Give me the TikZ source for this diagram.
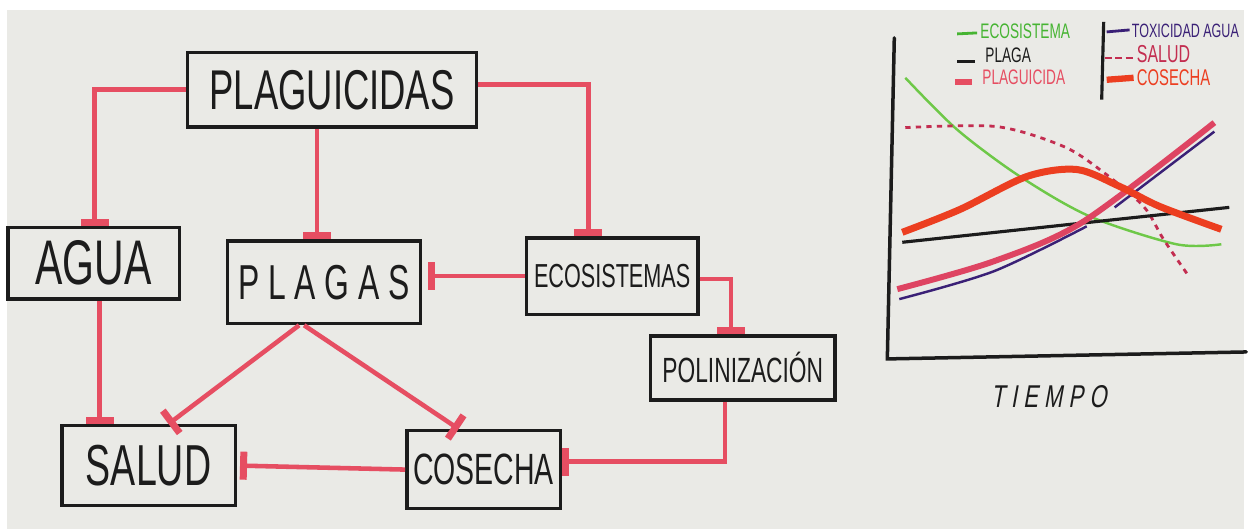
\documentclass[tikz,border=0pt]{standalone}
\usepackage{fontspec}
\newfontfamily\hand[FakeStretch=0.65]{Liberation Sans}
\newfontfamily\handsl[FakeStretch=0.7,FakeSlant=0.18]{Liberation Sans}
\usetikzlibrary{arrows.meta, positioning}

\definecolor{board}{RGB}{234,234,230}
\definecolor{marker}{RGB}{230,78,98}
\definecolor{ink}{RGB}{28,28,28}
\definecolor{ecogreen}{RGB}{110,200,72}
\definecolor{legreen}{RGB}{70,180,50}
\definecolor{saluddash}{RGB}{195,45,80}
\definecolor{cosorange}{RGB}{236,62,32}
\definecolor{plagpink}{RGB}{222,68,98}
\definecolor{toxpurple}{RGB}{58,32,118}

\begin{document}
\begin{tikzpicture}[x=0.02cm, y=-0.02cm,
    box/.style={draw=ink, line width=2pt, text=ink, inner sep=0pt},
    inh/.style={draw=marker, line width=2.6pt, -{Rectangle[length=4pt, width=16pt]}},
    leg/.style={anchor=west, inner sep=0pt, text height=0.72em, text depth=0pt,
                font=\hand\fontsize{12}{12}\selectfont}]

    % Whiteboard
    \fill[white] (0,0) rectangle (1248,531);
    \fill[board] (7,10) rectangle (1248,531);

    % Concept map
    \node[box, minimum width=5.8cm, minimum height=1.5cm, font=\hand\fontsize{32}{32}\selectfont] (plag) at (333,90) {PLAGUICIDAS};
    \node[box, minimum width=3.44cm, minimum height=1.44cm, font=\hand\fontsize{36}{36}\selectfont] (agua) at (94,264) {AGUA};
    \node[box, minimum width=3.88cm, minimum height=1.66cm, font=\hand\fontsize{28}{28}\selectfont] (plagas) at (325,283) {P L A G A S};
    \node[box, minimum width=3.44cm, minimum height=1.54cm, font=\hand\fontsize{19}{19}\selectfont] (eco) at (614,277) {ECOSISTEMAS};
    \node[box, minimum width=3.7cm, minimum height=1.28cm, font=\hand\fontsize{20}{20}\selectfont] (poli) at (745,369) {POLINIZACIÓN};
    \node[box, minimum width=3.48cm, minimum height=1.6cm, font=\hand\fontsize{33}{33}\selectfont] (salud) at (149,467) {SALUD};
    \node[box, minimum width=3.08cm, minimum height=1.56cm, font=\hand\fontsize{25}{25}\selectfont] (cosecha) at (485,471) {COSECHA};

    % Inhibitions
    \draw[inh] (plag.west) -| ([xshift=0.02cm]agua.north);
    \draw[inh] ([xshift=-0.3cm]plag.south) -- ([xshift=-0.3cm]plag.south |- plagas.north);
    \draw[inh] ([yshift=0.1cm]plag.east) -| ([xshift=-0.48cm]eco.north);
    \draw[inh] (eco.west) -- ([xshift=0.12cm]eco.west -| plagas.east);
    \draw[inh] ([yshift=-0.06cm]eco.east) -| ([xshift=-0.24cm]poli.north);
    \draw[inh] ([xshift=-0.36cm]poli.south) |- ([yshift=0.16cm]cosecha.east);
    \draw[inh] ([xshift=0.12cm]agua.south) -- ([xshift=0.12cm]agua.south |- salud.north);
    \draw[inh] ([xshift=-0.5cm]plagas.south) -- ([xshift=0.4cm]salud.north);
    \draw[inh] ([xshift=-0.4cm]plagas.south) -- ([xshift=-0.5cm]cosecha.north);
    \draw[inh] (cosecha.west) -- ([xshift=0.06cm]salud.east);

    % Chart axes
    \draw[ink, line width=2pt, line cap=round] (897,38) -- (890,360) -- (1250,353);
    \node[font=\handsl\fontsize{18}{18}\selectfont, text=ink] (tiempo) at (1052,398) {T I E M P O};

    % Chart curves
    \draw[ecogreen, line width=1.4pt, smooth] plot coordinates {(908,78) (960,130) (1023,177) (1093,217) (1180,245) (1225,245)};
    \draw[saluddash, line width=1.6pt, dashed, smooth] plot coordinates {(908,128) (1000,127) (1067,147) (1107,173) (1147,207) (1167,240) (1193,278)};
    \draw[ink, line width=1.8pt] (905,243) -- (1233,208);
    \draw[toxpurple, line width=1.4pt, smooth] plot coordinates {(902,300) (997,272) (1090,227)};
    \draw[toxpurple, line width=1.4pt] (1118,208) -- (1218,132);
    \draw[plagpink, line width=3.4pt, smooth] plot coordinates {(900,290) (997,262) (1087,222) (1218,123)};
    \draw[cosorange, line width=4pt, smooth] plot coordinates {(905,233) (963,210) (1030,177) (1080,170) (1123,187) (1163,207) (1225,230)};

    % Legend
    \draw[ink, line width=1.8pt] (1107,22) -- (1105,100);
    \draw[legreen, line width=1.6pt] (960,34) -- (980,33);
    \node[leg, text=legreen] (lgeco) at (983,32) {ECOSISTEMA};
    \draw[ink, line width=1.6pt] (960,62) -- (978,62);
    \node[leg, text=ink] (lgplaga) at (988,56) {PLAGA};
    \draw[marker, line width=3.4pt] (958,82) -- (975,82);
    \node[leg, text=marker] (lgplaguicida) at (985,78) {PLAGUICIDA};
    \draw[toxpurple, line width=1.6pt] (1110,32) -- (1133,30);
    \node[leg, text=toxpurple, font=\hand\fontsize{11}{11}\selectfont] (lgtox) at (1135,31) {TOXICIDAD AGUA};
    \draw[saluddash, line width=1.4pt, dash pattern=on 4pt off 2pt] (1108,58) -- (1138,58);
    \node[leg, text=saluddash, font=\hand\fontsize{14}{14}\selectfont] (lgsalud) at (1140,56) {SALUD};
    \draw[cosorange, line width=3.6pt] (1110,80) -- (1137,78);
    \node[leg, text=cosorange, font=\hand\fontsize{13}{13}\selectfont] (lgcosecha) at (1140,79) {COSECHA};
\end{tikzpicture}
\end{document}
